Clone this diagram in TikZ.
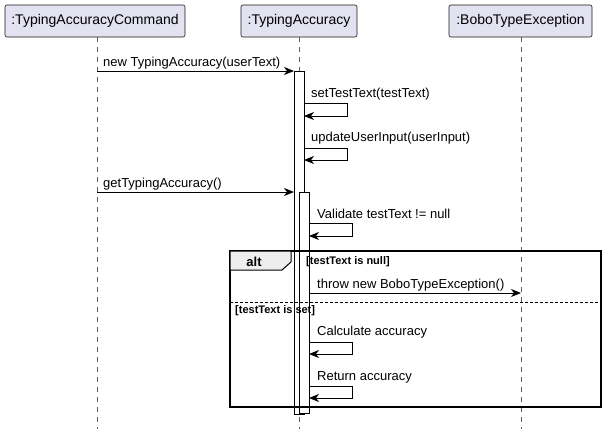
\documentclass[tikz,border=0pt]{standalone}
\usepackage{fontspec}
\setmainfont{Liberation Sans}
\usetikzlibrary{arrows.meta}
\definecolor{partfill}{HTML}{E2E2F0}
\definecolor{partdraw}{HTML}{181818}
\definecolor{tabfill}{HTML}{EEEEEE}
\begin{document}
\begin{tikzpicture}[x=1pt,y=-1pt,
  participant/.style={draw=partdraw, line width=0.6pt, fill=partfill, rounded corners=2pt,
    minimum height=32pt, inner sep=0pt, font=\fontsize{14}{16}\selectfont},
  lifeline/.style={draw=partdraw!70, line width=0.6pt, dash pattern=on 5pt off 5pt},
  msg/.style={draw=black, line width=1pt, -{Stealth[length=10pt,width=8pt,inset=3pt]}},
  msgtext/.style={anchor=west, inner sep=0pt, font=\fontsize{13}{15}\selectfont},
  activation/.style={draw=black, line width=1pt, fill=white, inner sep=0pt, anchor=north west},
  guard/.style={anchor=west, inner sep=0pt, font=\bfseries\fontsize{11}{13}\selectfont},
  framebox/.style={draw=black, line width=1.5pt},
  tabbox/.style={draw=black, line width=1pt, fill=tabfill},
  separator/.style={draw=black, line width=0.8pt, dash pattern=on 3pt off 2pt}
]
\useasboundingbox (0,0) rectangle (608,429);

% participants
\node[participant, minimum width=180pt] (cmd) at (95,21) {:TypingAccuracyCommand};
\node[participant, minimum width=116pt] (ta) at (299,21) {:TypingAccuracy};
\node[participant, minimum width=143pt] (bte) at (520.5,21) {:BoboTypeException};

% lifelines
\coordinate (cmdEnd) at (97,429);
\coordinate (taEnd) at (299,429);
\coordinate (bteEnd) at (521,429);
\draw[lifeline] (97,37) -- (cmdEnd);
\draw[lifeline] (299,37) -- (taEnd);
\draw[lifeline] (521,37) -- (bteEnd);

% activations
\node[activation, minimum width=10pt, minimum height=343pt] (act1) at (294,71) {};
\node[activation, minimum width=10pt, minimum height=221pt] (act2) at (299,192) {};

% alt frame
\draw[framebox] (230,251) rectangle (601,407);
\draw[tabbox] (230,251) -- (291,251) -- (291,262) -- (282,270) -- (230,270) -- cycle;
\node[font=\bfseries\fontsize{13}{15}\selectfont, inner sep=0pt] (altlbl) at (254,262) {alt};
\node[guard] (g1) at (306,262) {[testText is null]};
\draw[separator] (230,302) -- (601,302);
\node[guard] (g2) at (235,311) {[testText is set]};

% message 1
\coordinate (m1s) at (97,71);
\node[msgtext] (m1t) at (103,63) {new TypingAccuracy(userText)};
\draw[msg] (m1s) -- (act1.north west);

% self message setTestText
\node[msgtext] (m2t) at (311,94) {setTestText(testText)};
\coordinate (m2a) at (304,103);
\coordinate (m2b) at (347,103);
\coordinate (m2c) at (347,116);
\coordinate (m2d) at (304,116);
\draw[msg] (m2a) -- (m2b) -- (m2c) -- (m2d);

% self message updateUserInput
\node[msgtext] (m3t) at (311,138) {updateUserInput(userInput)};
\coordinate (m3a) at (304,148);
\coordinate (m3b) at (347,148);
\coordinate (m3c) at (347,160);
\coordinate (m3d) at (304,160);
\draw[msg] (m3a) -- (m3b) -- (m3c) -- (m3d);

% message getTypingAccuracy
\coordinate (m4s) at (97,192);
\coordinate (m4e) at (294,192);
\node[msgtext] (m4t) at (103,184) {getTypingAccuracy()};
\draw[msg] (m4s) -- (m4e);

% validate
\node[msgtext] (m5t) at (317,214) {Validate testText != null};
\coordinate (m5a) at (309,223);
\coordinate (m5b) at (352,223);
\coordinate (m5c) at (352,236);
\coordinate (m5d) at (309,236);
\draw[msg] (m5a) -- (m5b) -- (m5c) -- (m5d);

% throw
\node[msgtext] (m6t) at (317,285) {throw new BoboTypeException()};
\coordinate (m6s) at (309,293);
\coordinate (m6e) at (521,293);
\draw[msg] (m6s) -- (m6e);

% calculate
\node[msgtext] (m7t) at (317,332) {Calculate accuracy};
\coordinate (m7a) at (309,342);
\coordinate (m7b) at (352,342);
\coordinate (m7c) at (352,354);
\coordinate (m7d) at (309,354);
\draw[msg] (m7a) -- (m7b) -- (m7c) -- (m7d);

% return
\node[msgtext] (m8t) at (317,377) {Return accuracy};
\coordinate (m8a) at (309,386);
\coordinate (m8b) at (352,386);
\coordinate (m8c) at (352,398);
\coordinate (m8d) at (309,398);
\draw[msg] (m8a) -- (m8b) -- (m8c) -- (m8d);
\end{tikzpicture}
\end{document}
